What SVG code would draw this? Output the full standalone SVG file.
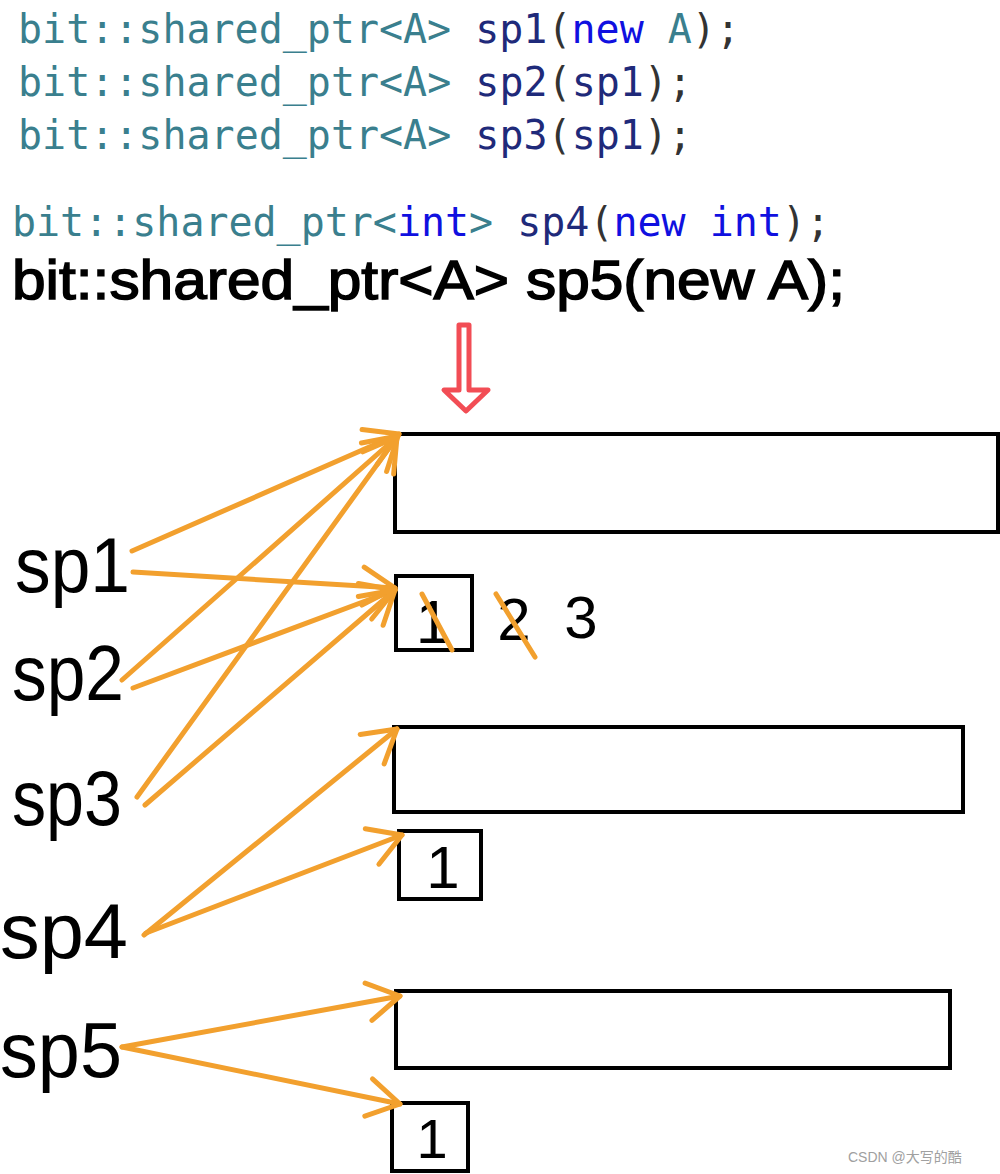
<svg xmlns="http://www.w3.org/2000/svg" width="1000" height="1174" viewBox="0 0 1000 1174">
<style>
.code{font-family:"DejaVu Sans Mono","Liberation Mono",monospace;font-size:40px}
.ty{fill:#3a7f8e}.kw{fill:#1010e0}.var{fill:#1f2a7a}.pu{fill:#333}
.hand{font-family:"Liberation Sans",Arial,sans-serif;fill:#000}
.lbl{font-size:78px}
.box{fill:none;stroke:#000;stroke-width:4}
.conn{fill:none;stroke:#f2a02e;stroke-width:5;stroke-linecap:round}
.strike{stroke:#f2a02e;stroke-width:5;stroke-linecap:round}
.wm{font-family:"Liberation Sans","Noto Sans CJK SC",sans-serif;font-size:14px;fill:#a0a0a0}
</style>
<defs>
<marker id="chev" markerUnits="userSpaceOnUse" viewBox="-36 -24 42 48" refX="0" refY="0" markerWidth="42" markerHeight="48" orient="auto" overflow="visible">
<path d="M -32 -19 Q -10 -6 0 0 Q -10 6 -32 19" fill="none" stroke="#f2a02e" stroke-width="5" stroke-linecap="round" stroke-linejoin="round"/>
</marker>
</defs>
<rect width="1000" height="1174" fill="#fff"/>

<g id="code">
<text class="code" x="18" y="43" textLength="722" lengthAdjust="spacingAndGlyphs"><tspan class="ty">bit::shared_ptr&lt;A&gt;</tspan> <tspan class="var">sp1</tspan><tspan class="pu">(</tspan><tspan class="kw">new</tspan> <tspan class="ty">A</tspan><tspan class="pu">);</tspan></text>
<text class="code" x="18" y="96" textLength="674" lengthAdjust="spacingAndGlyphs"><tspan class="ty">bit::shared_ptr&lt;A&gt;</tspan> <tspan class="var">sp2</tspan><tspan class="pu">(</tspan><tspan class="var">sp1</tspan><tspan class="pu">);</tspan></text>
<text class="code" x="18" y="149" textLength="674" lengthAdjust="spacingAndGlyphs"><tspan class="ty">bit::shared_ptr&lt;A&gt;</tspan> <tspan class="var">sp3</tspan><tspan class="pu">(</tspan><tspan class="var">sp1</tspan><tspan class="pu">);</tspan></text>
<text class="code" x="12" y="236" textLength="818" lengthAdjust="spacingAndGlyphs"><tspan class="ty">bit::shared_ptr&lt;</tspan><tspan class="kw">int</tspan><tspan class="ty">&gt;</tspan> <tspan class="var">sp4</tspan><tspan class="pu">(</tspan><tspan class="kw">new</tspan> <tspan class="kw">int</tspan><tspan class="pu">);</tspan></text>
<text class="hand" x="12" y="299" font-size="56" stroke="#000" stroke-width="1.5" textLength="833" lengthAdjust="spacingAndGlyphs">bit::shared_ptr&lt;A&gt; sp5(new A);</text>
</g>

<g id="down-arrow">
<path d="M 459 325 L 469 325 L 469 390 L 488 390 L 466 411 L 444 390 L 459 390 Z" fill="#fff" stroke="#f24d55" stroke-width="5" stroke-linejoin="round"/>
</g>

<g id="obj-sp1">
<rect class="box" x="395" y="434" width="603" height="98"/>
</g>
<g id="count-sp1">
<rect class="box" x="396" y="576" width="76" height="74"/>
<text class="hand" x="433" y="643" font-size="62" text-anchor="middle">1</text>
<text class="hand" x="514" y="640" font-size="60" text-anchor="middle">2</text>
<text class="hand" x="581" y="638" font-size="60" text-anchor="middle">3</text>
<line class="strike" x1="422" y1="594" x2="452" y2="650"/>
<line class="strike" x1="496" y1="594" x2="535" y2="657"/>
</g>
<g id="obj-sp4">
<rect class="box" x="394" y="727" width="569" height="85"/>
</g>
<g id="count-sp4">
<rect class="box" x="399" y="831" width="82" height="68"/>
<text class="hand" x="443" y="888" font-size="60" text-anchor="middle">1</text>
</g>
<g id="obj-sp5">
<rect class="box" x="396" y="991" width="554" height="77"/>
</g>
<g id="count-sp5">
<rect class="box" x="392" y="1103" width="76" height="68"/>
<text class="hand" x="432" y="1158" font-size="56" text-anchor="middle">1</text>
</g>

<g id="label-sp1"><text class="hand lbl" x="15" y="592" textLength="115" lengthAdjust="spacingAndGlyphs">sp1</text></g>
<g id="label-sp2"><text class="hand lbl" x="12" y="700" textLength="112" lengthAdjust="spacingAndGlyphs">sp2</text></g>
<g id="label-sp3"><text class="hand lbl" x="12" y="825" textLength="110" lengthAdjust="spacingAndGlyphs">sp3</text></g>
<g id="label-sp4"><text class="hand lbl" x="0" y="958" textLength="128" lengthAdjust="spacingAndGlyphs">sp4</text></g>
<g id="label-sp5"><text class="hand lbl" x="0" y="1077" textLength="122" lengthAdjust="spacingAndGlyphs">sp5</text></g>

<g id="connectors">
<line class="conn" x1="132" y1="551" x2="399" y2="434" marker-end="url(#chev)"/>
<line class="conn" x1="133" y1="572" x2="395" y2="588" marker-end="url(#chev)"/>
<line class="conn" x1="122" y1="680" x2="398" y2="436" marker-end="url(#chev)"/>
<line class="conn" x1="133" y1="688" x2="395" y2="590" marker-end="url(#chev)"/>
<line class="conn" x1="137" y1="797" x2="397" y2="437" marker-end="url(#chev)"/>
<line class="conn" x1="145" y1="805" x2="395" y2="590" marker-end="url(#chev)"/>
<line class="conn" x1="144" y1="935" x2="397" y2="729" marker-end="url(#chev)"/>
<line class="conn" x1="146" y1="933" x2="402" y2="835" marker-end="url(#chev)"/>
<line class="conn" x1="122" y1="1047" x2="400" y2="996" marker-end="url(#chev)"/>
<line class="conn" x1="122" y1="1047" x2="400" y2="1104" marker-end="url(#chev)"/>
</g>

<text class="wm" x="848" y="1162">CSDN @大写的酷</text>
</svg>
